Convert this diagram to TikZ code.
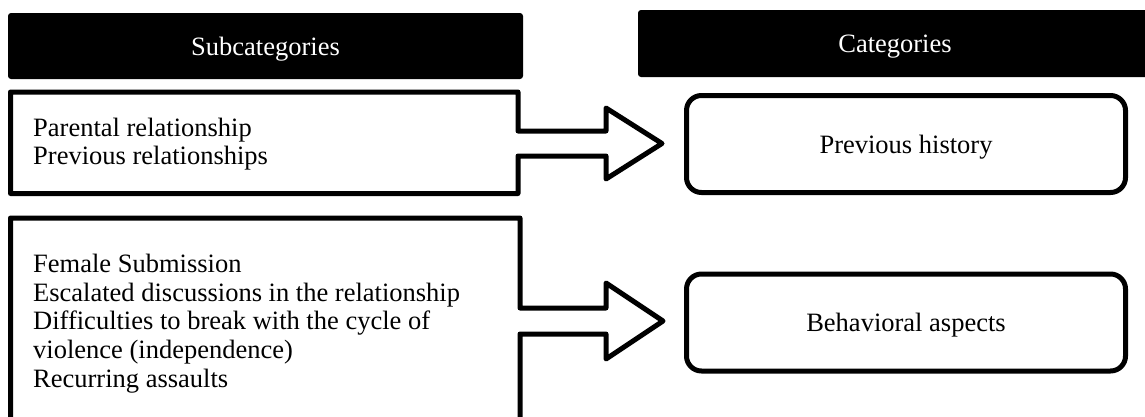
\documentclass[tikz,border=0pt]{standalone}
\usepackage{fontspec}
\setmainfont{Liberation Serif}
\newcommand\diagfont{\fontsize{26.5}{28.6}\selectfont}
\begin{document}
\begin{tikzpicture}[x=1pt,y=-1pt,
  outl/.style={draw=black, line width=5pt, line join=round},
  hdr/.style={fill=black, rounded corners=3pt, text=white, font=\diagfont, inner sep=0pt, text depth=0pt},
  catbox/.style={outl, rounded corners=15pt, font=\diagfont, inner sep=0pt, text depth=0pt},
  subtext/.style={font=\diagfont, align=left, inner sep=0pt, anchor=west}]
\useasboundingbox (0,0) rectangle (1145,416);
\clip (0,0) rectangle (1145,416);
% headers
\node[hdr, minimum width=515pt, minimum height=66pt] (hsub) at (265.5,46) {Subcategories};
\node[hdr, minimum width=514pt, minimum height=67pt] (hcat) at (895,43.5) {Categories};
% category boxes
\node[catbox, minimum width=439pt, minimum height=97pt] (prev) at (906,144) {Previous history};
\node[catbox, minimum width=439pt, minimum height=97pt] (behav) at (906,322.5) {Behavioral aspects};
% subcategory box 1 with block arrow
\coordinate (t1) at (662,143.5);
\draw[outl] (10.5,92) -- (518,92) -- (518,131) -- (606,131) -- (606,108) -- (t1)
  -- (606,179) -- (606,156) -- (518,156) -- (518,193.5) -- (10.5,193.5) -- cycle;
\node[subtext] (sub1) at (33,144) {Parental relationship\\Previous relationships};
% subcategory box 2 with block arrow
\coordinate (t2) at (663,321);
\draw[outl] (10.5,218) -- (520,218) -- (520,308) -- (606,308) -- (606,283) -- (t2)
  -- (606,359) -- (606,334) -- (520,334) -- (520,430) -- (10.5,430) -- cycle;
\node[subtext] (sub2) at (33,323.5) {Female Submission\\Escalated discussions in the relationship\\Difficulties to break with the cycle of\\violence (independence)\\Recurring assaults};
\end{tikzpicture}
\end{document}
